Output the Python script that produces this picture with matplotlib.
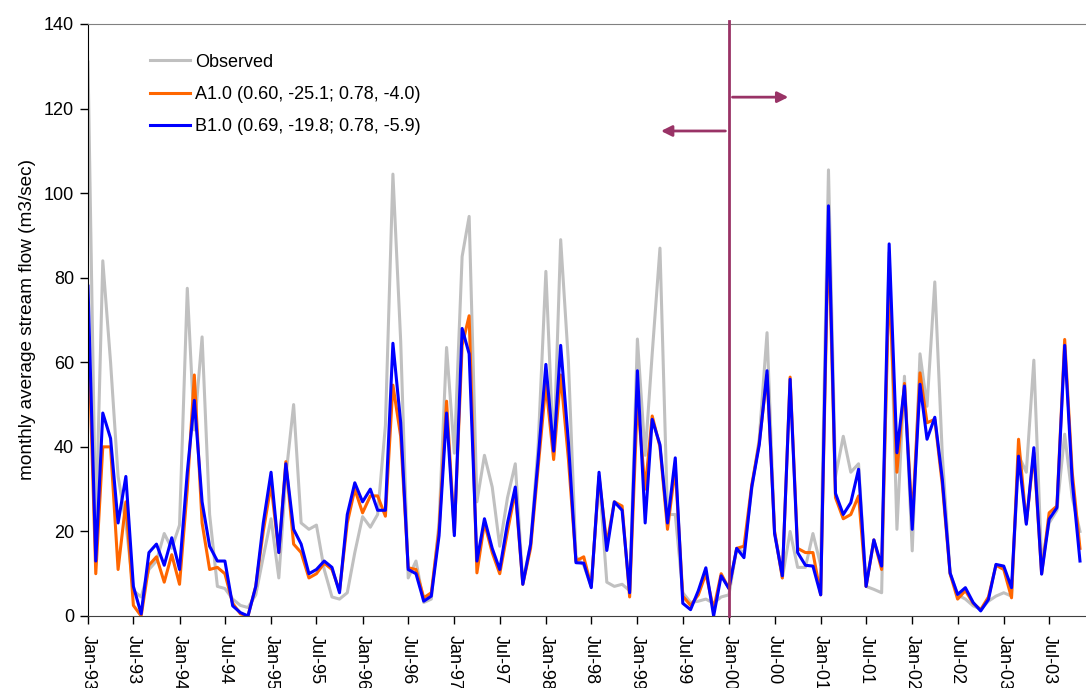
import numpy as np
import pandas as pd
import matplotlib
matplotlib.use("Agg")
import matplotlib.pyplot as plt
import matplotlib.dates as mdates

plt.rcParams['font.family'] = ['Liberation Sans', 'DejaVu Sans']

# monthly values, Jan-93 onwards
observed = [131, 20, 84, 60, 33, 22, 6, 4.5, 11, 13, 19.5, 16,
            21.5, 77.5, 44, 66, 24, 7, 6.5, 4, 2.5, 2, 5, 14,
            23, 9, 33, 50, 22, 20.5, 21.5, 11, 4.5, 4, 5.5, 15,
            23.5, 21, 24, 45, 104.5, 65, 9, 13, 3.2, 4, 22, 63.5,
            38.5, 85, 94.5, 27, 38, 30.5, 16.5, 28, 36, 8, 17, 40,
            81.5, 38, 89, 60, 14, 12, 7, 33, 8, 7, 7.5, 6,
            65.5, 38, 62, 87, 24, 24, 5.5, 3.2, 3.5, 4, 3, 4.5,
            5, 16, 15, 30, 42, 67, 20, 9, 20, 11.5, 11.5, 19.5,
            12, 105.5, 33, 42.5, 34, 36, 7, 6.3, 5.5, 86, 20.5, 56.7,
            15.4, 62, 49.6, 79, 38, 10, 5, 4, 2.4, 1.6, 3.5, 4.7,
            5.5, 4.7, 38, 34, 60.5, 12.6, 22, 25, 43, 28, 20]

a10 = [70, 10, 40, 40, 11, 27, 2.5, 0, 12, 14, 8, 14.5,
       7.5, 30, 57, 22, 11, 11.5, 10, 3, 0.5, 0, 7, 20,
       31, 15, 36.5, 17, 15, 9, 10, 12.5, 11, 6, 22, 30,
       24.4, 28.4, 28.4, 23.6, 54.6, 42.5, 11.4, 11, 4.3, 5.5, 20.5, 50.8,
       19.7, 64, 71, 10.2, 22, 15, 10, 20, 29.5, 7.5, 16, 35,
       54.8, 37, 57, 37, 13, 14, 7, 33, 17, 27, 26, 4.5,
       51, 30, 47.3, 40, 20.5, 35, 4.7, 2.5, 5, 10, 1.6, 10,
       6.5, 16, 16.5, 31, 41, 57, 20, 9, 56.5, 16, 15, 15,
       5, 92, 28, 23, 24, 28.4, 7, 18, 11, 80, 34, 55,
       22.5, 57.5, 45.7, 46.5, 31, 10, 4, 6, 3, 1.5, 4.5, 12,
       11, 4.3, 41.8, 22, 38.6, 10, 24.4, 26, 65.4, 34, 16]

b10 = [78, 13, 48, 42, 22, 33, 7, 0.5, 15, 17, 12, 18.5,
       11, 34, 51, 27, 16.5, 13, 13, 2.4, 0.8, 0, 7, 22,
       34, 15, 36, 20.5, 17, 10, 11, 13, 11.5, 5.5, 24, 31.5,
       27, 30, 25, 25, 64.5, 45.7, 11, 10, 3.5, 4.7, 19, 48,
       19, 68, 62, 13, 23, 16, 11, 22, 30.5, 7.5, 17, 37,
       59.5, 39, 64, 41, 12.6, 12.5, 6.7, 34, 15.5, 27, 25, 5.5,
       58, 22, 46.5, 40.5, 22, 37.4, 3, 1.5, 6, 11.4, 0, 9.5,
       6.5, 16, 13.8, 30.5, 40.5, 58, 19.5, 9.5, 56, 15, 12, 11.8,
       5, 97, 29, 24, 26.8, 34.7, 7, 18, 11.8, 88, 38.6, 54.4,
       20.5, 54.8, 41.8, 47, 32.3, 10.2, 5.1, 6.7, 3.2, 1.2, 3.9, 12.2,
       11.8, 6.7, 37.8, 21.7, 39.8, 9.9, 22.9, 25.6, 64, 32, 13]

labels = ['Observed', 'A1.0 (0.60, -25.1; 0.78, -4.0)', 'B1.0 (0.69, -19.8; 0.78, -5.9)']

dates = pd.date_range('1993-01-01', periods=len(observed), freq='MS')

fig = plt.figure(figsize=(10.86, 6.88), dpi=100)
ax = fig.add_axes([88 / 1086, 72 / 688, 998 / 1086, 592 / 688])

ax.plot(dates, observed, color='#C0C0C0', lw=2.2, label=labels[0])
ax.plot(dates, a10, color='#FF6600', lw=2.2, label=labels[1])
ax.plot(dates, b10, color='#0000FF', lw=2.2, label=labels[2])

ax.set_ylim(0, 140)
ax.set_yticks(range(0, 141, 20))
ax.set_xlim(pd.Timestamp('1993-01-01'), pd.Timestamp('2003-11-25'))
ax.xaxis.set_major_locator(mdates.MonthLocator(bymonth=[1, 7]))
ax.xaxis.set_major_formatter(mdates.DateFormatter('%b-%y'))
plt.setp(ax.get_xticklabels(), rotation=270, ha='center', va='top')
ax.tick_params(axis='both', direction='out', length=6, width=1, labelsize=13, colors='black')
ax.tick_params(axis='x', pad=8)
ax.tick_params(axis='y', pad=4)

ax.spines['right'].set_visible(False)
ax.spines['top'].set_color('#808080')
ax.spines['left'].set_color('black')
ax.spines['bottom'].set_color('#404040')

ax.set_ylabel('monthly average stream flow (m3/sec)', fontsize=13.7, labelpad=6)

# split marker at Jan-00 with arrows
split = pd.Timestamp('2000-01-01')
purple = '#993366'
ax.plot([split, split], [0, 140.8], color=purple, lw=2.0, clip_on=False, zorder=5)
ax.annotate('', xy=(pd.Timestamp('2000-09-05'), 122.7), xytext=(pd.Timestamp('2000-01-04'), 122.7),
            arrowprops=dict(arrowstyle='-|>', color=purple, lw=2.0, mutation_scale=16))
ax.annotate('', xy=(pd.Timestamp('1999-03-25'), 114.7), xytext=(pd.Timestamp('1999-12-29'), 114.7),
            arrowprops=dict(arrowstyle='-|>', color=purple, lw=2.0, mutation_scale=16))

ax.legend(loc='upper left', bbox_to_anchor=(0.062, 0.95), frameon=False, fontsize=13,
          handlelength=2.2, handletextpad=0.3, labelspacing=0.85, borderpad=0, borderaxespad=0)

fig.savefig('out.png', dpi=100)
